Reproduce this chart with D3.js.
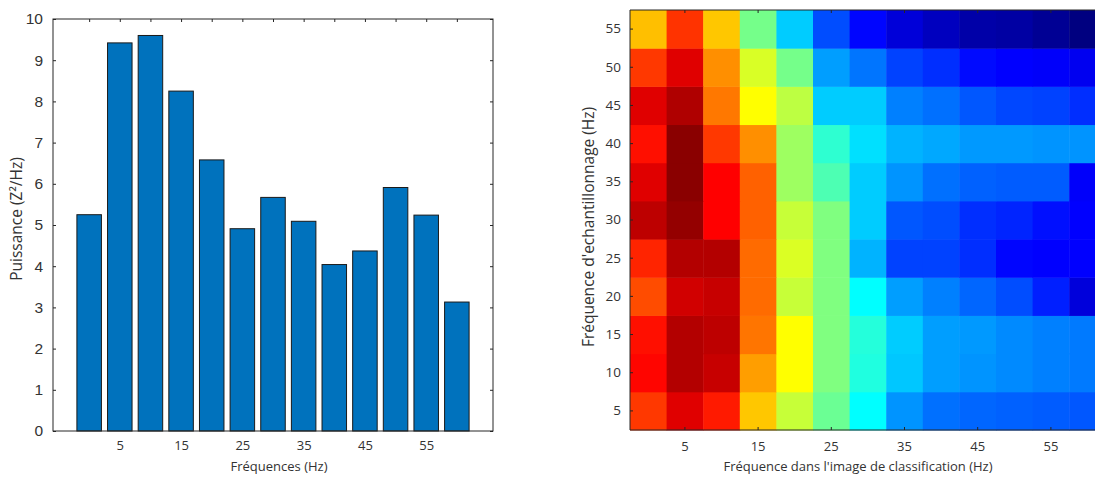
<!DOCTYPE html>
<html>
<head>
<meta charset="utf-8">
<script src="https://cdn.jsdelivr.net/npm/d3@7"></script>
<style>
  body { margin: 0; background: #fff; }
  svg { display: block; }
</style>
</head>
<body>
<svg id="chart" width="1095" height="481"></svg>
<script>
// ---------- Data ----------
const barFreqs = [0, 5, 10, 15, 20, 25, 30, 35, 40, 45, 50, 55, 60];
const barPower = [5.25, 9.42, 9.6, 8.25, 6.58, 4.91, 5.67, 5.09, 4.04, 4.37, 5.91, 5.24, 3.13];
const barTickLabels = [5, 15, 25, 35, 45, 55];
const yTicksLeft = [0, 1, 2, 3, 4, 5, 6, 7, 8, 9, 10];

const heatCols = [0, 5, 10, 15, 20, 25, 30, 35, 40, 45, 50, 55, 60];      // classification frequency
const heatRows = [5, 10, 15, 20, 25, 30, 35, 40, 45, 50, 55];             // sampling frequency
const heatTickX = [5, 15, 25, 35, 45, 55];
// normalised values (0..1) per sampling frequency row
const heat5  = [0.82, 0.905, 0.85, 0.68, 0.57, 0.48, 0.375, 0.27, 0.235, 0.225, 0.22, 0.215, 0.21];
const heat10 = [0.87, 0.95, 0.93, 0.72, 0.625, 0.50, 0.405, 0.32, 0.28, 0.27, 0.26, 0.25, 0.245];
const heat15 = [0.86, 0.95, 0.94, 0.76, 0.625, 0.50, 0.41, 0.325, 0.28, 0.275, 0.26, 0.25, 0.245];
const heat20 = [0.80, 0.92, 0.93, 0.77, 0.57, 0.50, 0.375, 0.28, 0.25, 0.225, 0.20, 0.155, 0.09];
const heat25 = [0.84, 0.95, 0.95, 0.77, 0.59, 0.50, 0.30, 0.19, 0.19, 0.17, 0.13, 0.125, 0.125];
const heat30 = [0.94, 0.98, 0.875, 0.78, 0.57, 0.50, 0.325, 0.21, 0.20, 0.17, 0.16, 0.14, 0.125];
const heat35 = [0.905, 0.99, 0.875, 0.78, 0.53, 0.45, 0.325, 0.27, 0.235, 0.22, 0.215, 0.215, 0.12];
const heat40 = [0.86, 0.99, 0.82, 0.735, 0.53, 0.42, 0.345, 0.30, 0.29, 0.275, 0.275, 0.27, 0.27];
const heat45 = [0.905, 0.953, 0.757, 0.625, 0.56, 0.325, 0.325, 0.25, 0.235, 0.21, 0.195, 0.19, 0.17];
const heat50 = [0.82, 0.905, 0.735, 0.5875, 0.49, 0.28, 0.24, 0.19, 0.17, 0.135, 0.125, 0.12, 0.11];
const heat55 = [0.6875, 0.825, 0.68, 0.49, 0.325, 0.20, 0.13, 0.0875, 0.0625, 0.04, 0.035, 0.02, 0.0];
const heatValues = [heat5, heat10, heat15, heat20, heat25, heat30, heat35, heat40, heat45, heat50, heat55];

// ---------- Helpers ----------
const svg = d3.select("#chart");
const axisColor = "#262626";
const clamp = v => Math.max(0, Math.min(1, v));
function jet(t) {
  const r = clamp(1.5 - Math.abs(4 * t - 3));
  const g = clamp(1.5 - Math.abs(4 * t - 2));
  const b = clamp(1.5 - Math.abs(4 * t - 1));
  return d3.rgb(r * 255, g * 255, b * 255).toString();
}

// ---------- Left: bar chart ----------
const L = { left: 53, right: 493, top: 19, bottom: 431 };
const xL = d3.scaleLinear().domain([-5.9, 65.9]).range([L.left, L.right]);
const yL = d3.scaleLinear().domain([0, 10]).range([L.bottom, L.top]);
const barW = 0.8 * (xL(5) - xL(0));

const gL = svg.append("g");
gL.selectAll("rect.bar").data(barFreqs).join("rect")
  .attr("class", "bar")
  .attr("x", d => xL(d) - barW / 2)
  .attr("width", barW)
  .attr("y", (d, i) => yL(barPower[i]))
  .attr("height", (d, i) => yL(0) - yL(barPower[i]))
  .attr("fill", "#0072BD")
  .attr("stroke", "#1a1a1a")
  .attr("stroke-width", 1);

// axes
const axBottomL = gL.append("g").attr("transform", `translate(0,${L.bottom})`)
  .call(d3.axisBottom(xL).tickValues(barTickLabels).tickSize(0).tickPadding(10).tickFormat(d3.format("d")));
const axTopL = gL.append("g").attr("transform", `translate(0,${L.top})`)
  .call(d3.axisBottom(xL).tickValues(barFreqs).tickSize(3).tickFormat(""));
const axLeftL = gL.append("g").attr("transform", `translate(${L.left},0)`)
  .call(d3.axisLeft(yL).tickValues(yTicksLeft).tickSize(-3).tickPadding(10).tickFormat(d3.format("d")));
const axRightL = gL.append("g").attr("transform", `translate(${L.right},0)`)
  .call(d3.axisLeft(yL).tickValues(yTicksLeft).tickSize(3).tickFormat(""));
[axBottomL, axTopL, axLeftL, axRightL].forEach(a => {
  a.select(".domain").remove();
  a.selectAll("line").attr("stroke", axisColor);
});
axBottomL.selectAll("text").attr("font-family", "Open Sans").attr("font-size", 13).attr("fill", "#333");
axLeftL.selectAll("text").attr("font-family", "Liberation Sans").attr("font-size", 15.5).attr("fill", "#333");
gL.append("rect").attr("x", L.left).attr("y", L.top)
  .attr("width", L.right - L.left).attr("height", L.bottom - L.top)
  .attr("fill", "none").attr("stroke", axisColor).attr("stroke-width", 1);

gL.append("text").attr("x", 279).attr("y", 471).attr("text-anchor", "middle")
  .attr("font-family", "Open Sans").attr("font-size", 13).attr("fill", "#333")
  .text("Fréquences (Hz)");
gL.append("text").attr("transform", "translate(22,219) rotate(-90)").attr("text-anchor", "middle")
  .attr("font-family", "Open Sans").attr("font-size", 15.5).attr("fill", "#333")
  .text("Puissance (Z²/Hz)");

// ---------- Right: heat map ----------
const R = { left: 630, top: 10, bottom: 430, colW: 36.6 };
const xR = d3.scaleBand().domain(heatCols).range([R.left, R.left + R.colW * heatCols.length]).padding(0);
const yR = d3.scaleBand().domain(heatRows).range([R.bottom, R.top]).padding(0);

const gR = svg.append("g");
const cells = [];
heatRows.forEach((r, i) => heatCols.forEach((c, j) => cells.push({ r, c, v: heatValues[i][j] })));
gR.selectAll("rect.cell").data(cells).join("rect")
  .attr("class", "cell")
  .attr("x", d => xR(d.c))
  .attr("y", d => yR(d.r))
  .attr("width", xR.bandwidth() + 0.5)
  .attr("height", yR.bandwidth() + 0.5)
  .attr("fill", d => jet(d.v));

const axBottomR = gR.append("g").attr("transform", `translate(0,${R.bottom})`)
  .call(d3.axisBottom(xR).tickValues(heatTickX).tickSize(-3).tickPadding(12));
const axTopR = gR.append("g").attr("transform", `translate(0,${R.top})`)
  .call(d3.axisBottom(xR).tickValues(heatTickX).tickSize(3).tickFormat(""));
const axLeftR = gR.append("g").attr("transform", `translate(${R.left},0)`)
  .call(d3.axisLeft(yR).tickValues(heatRows).tickSize(-3).tickPadding(9));
[axBottomR, axTopR, axLeftR].forEach(a => {
  a.select(".domain").remove();
  a.selectAll("line").attr("stroke", axisColor);
});
axBottomR.selectAll("text").attr("font-family", "Open Sans").attr("font-size", 13).attr("fill", "#333");
axLeftR.selectAll("text").attr("font-family", "Open Sans").attr("font-size", 13.5).attr("fill", "#333");

const xEnd = R.left + R.colW * heatCols.length;
gR.append("line").attr("x1", R.left).attr("x2", xEnd).attr("y1", R.top).attr("y2", R.top).attr("stroke", axisColor);
gR.append("line").attr("x1", R.left).attr("x2", xEnd).attr("y1", R.bottom).attr("y2", R.bottom).attr("stroke", axisColor);
gR.append("line").attr("x1", R.left).attr("x2", R.left).attr("y1", R.top).attr("y2", R.bottom).attr("stroke", axisColor);

gR.append("text").attr("x", 858).attr("y", 471).attr("text-anchor", "middle")
  .attr("font-family", "Open Sans").attr("font-size", 13).attr("fill", "#333")
  .text("Fréquence dans l'image de classification (Hz)");
gR.append("text").attr("transform", "translate(594,227) rotate(-90)").attr("text-anchor", "middle")
  .attr("font-family", "Open Sans").attr("font-size", 15.5).attr("fill", "#333")
  .text("Fréquence d'echantillonnage (Hz)");
</script>
</body>
</html>
